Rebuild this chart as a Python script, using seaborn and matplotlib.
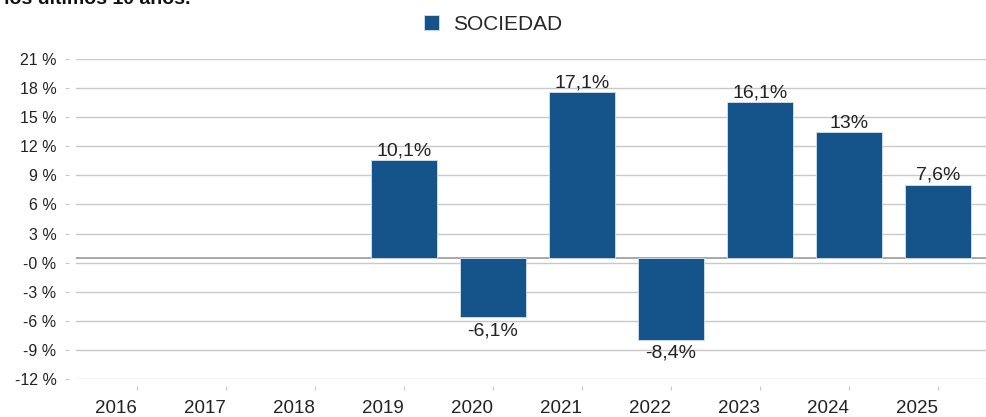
import numpy as np
import pandas as pd
import matplotlib
matplotlib.use("Agg")
import matplotlib.pyplot as plt
import seaborn as sns

# Data
years = ["2016", "2017", "2018", "2019", "2020", "2021", "2022", "2023", "2024", "2025"]
returns = [np.nan, np.nan, np.nan, 10.1, -6.1, 17.1, -8.4, 16.1, 13.0, 7.6]
value_labels = ["", "", "", "10,1%", "-6,1%", "17,1%", "-8,4%", "16,1%", "13%", "7,6%"]
# y ticks sit slightly below the round values (hence the "-0 %" label)
ytick_values = [-12.45, -9.45, -6.45, -3.45, -0.45, 2.55, 5.55, 8.55, 11.55, 14.55, 17.55, 20.55]
ytick_labels = ["-12 %", "-9 %", "-6 %", "-3 %", "-0 %", "3 %", "6 %", "9 %", "12 %", "15 %", "18 %", "21 %"]
series_name = "SOCIEDAD"
title_text = "Rentabilidad de los últimos 10 años."

df = pd.DataFrame({"Año": years, "Rentabilidad": returns})

sns.set_style("white")
plt.rcParams["font.family"] = ["Liberation Sans", "DejaVu Sans"]

bar_color = "#14548a"

fig = plt.figure(figsize=(9.87, 4.17), dpi=100)
ax = fig.add_axes([76 / 987, 1 - 379 / 417, 1 - 76 / 987, (379 - 59) / 417])

sns.barplot(data=df, x="Año", y="Rentabilidad", order=years, color=bar_color,
            width=0.75, saturation=1, label=series_name, ax=ax,
            edgecolor="#d6e2ee", linewidth=0.6, zorder=3)

ax.set_xlim(-0.685, 9.55)
ax.set_ylim(-12.45, 20.55)
ax.set_yticks(ytick_values)
ax.set_yticklabels(ytick_labels)
ax.yaxis.grid(True, color="#c8c8c8", linewidth=1, zorder=0)
ax.axhline(0, color="#a0a0a0", linewidth=1.3, zorder=2)

ax.set_xticks(range(len(years)))
ax.set_xticklabels(years)
ax.set_xlabel("")
ax.set_ylabel("")

for side in ["top", "right", "left", "bottom"]:
    ax.spines[side].set_visible(False)
ax.spines["left"].set_position(("outward", 5))
ax.spines["bottom"].set_position(("outward", 5))
ax.tick_params(axis="y", length=3, width=0.8, color="#c8c8c8", pad=6, left=True,
               labelsize=11.5, labelcolor="#222222")
ax.tick_params(axis="x", length=3, width=0.8, color="#c8c8c8", pad=7, bottom=True,
               labelsize=13.5, labelcolor="#222222")
for t in ax.get_xticklabels():
    t.set_horizontalalignment("right")

# value labels
for i, (v, lab) in enumerate(zip(returns, value_labels)):
    if np.isnan(v):
        continue
    if v >= 0:
        ax.annotate(lab, (i, v), xytext=(0, 0.5), textcoords="offset points",
                    ha="center", va="bottom", fontsize=14, color="#222222")
    else:
        ax.annotate(lab, (i, v), xytext=(0, -3.5), textcoords="offset points",
                    ha="center", va="top", fontsize=14, color="#222222")

ax.legend(loc="center", bbox_to_anchor=(0.5, 1 - 24 / 417), bbox_transform=fig.transFigure,
          frameon=False, fontsize=15, handlelength=0.7, handleheight=0.7, handletextpad=0.7)

fig.text(191 / 987, 1 - 4 / 417, title_text, ha="right", va="baseline",
         fontsize=14, fontweight="bold", color="#111111")

fig.savefig("out.png", dpi=100)
